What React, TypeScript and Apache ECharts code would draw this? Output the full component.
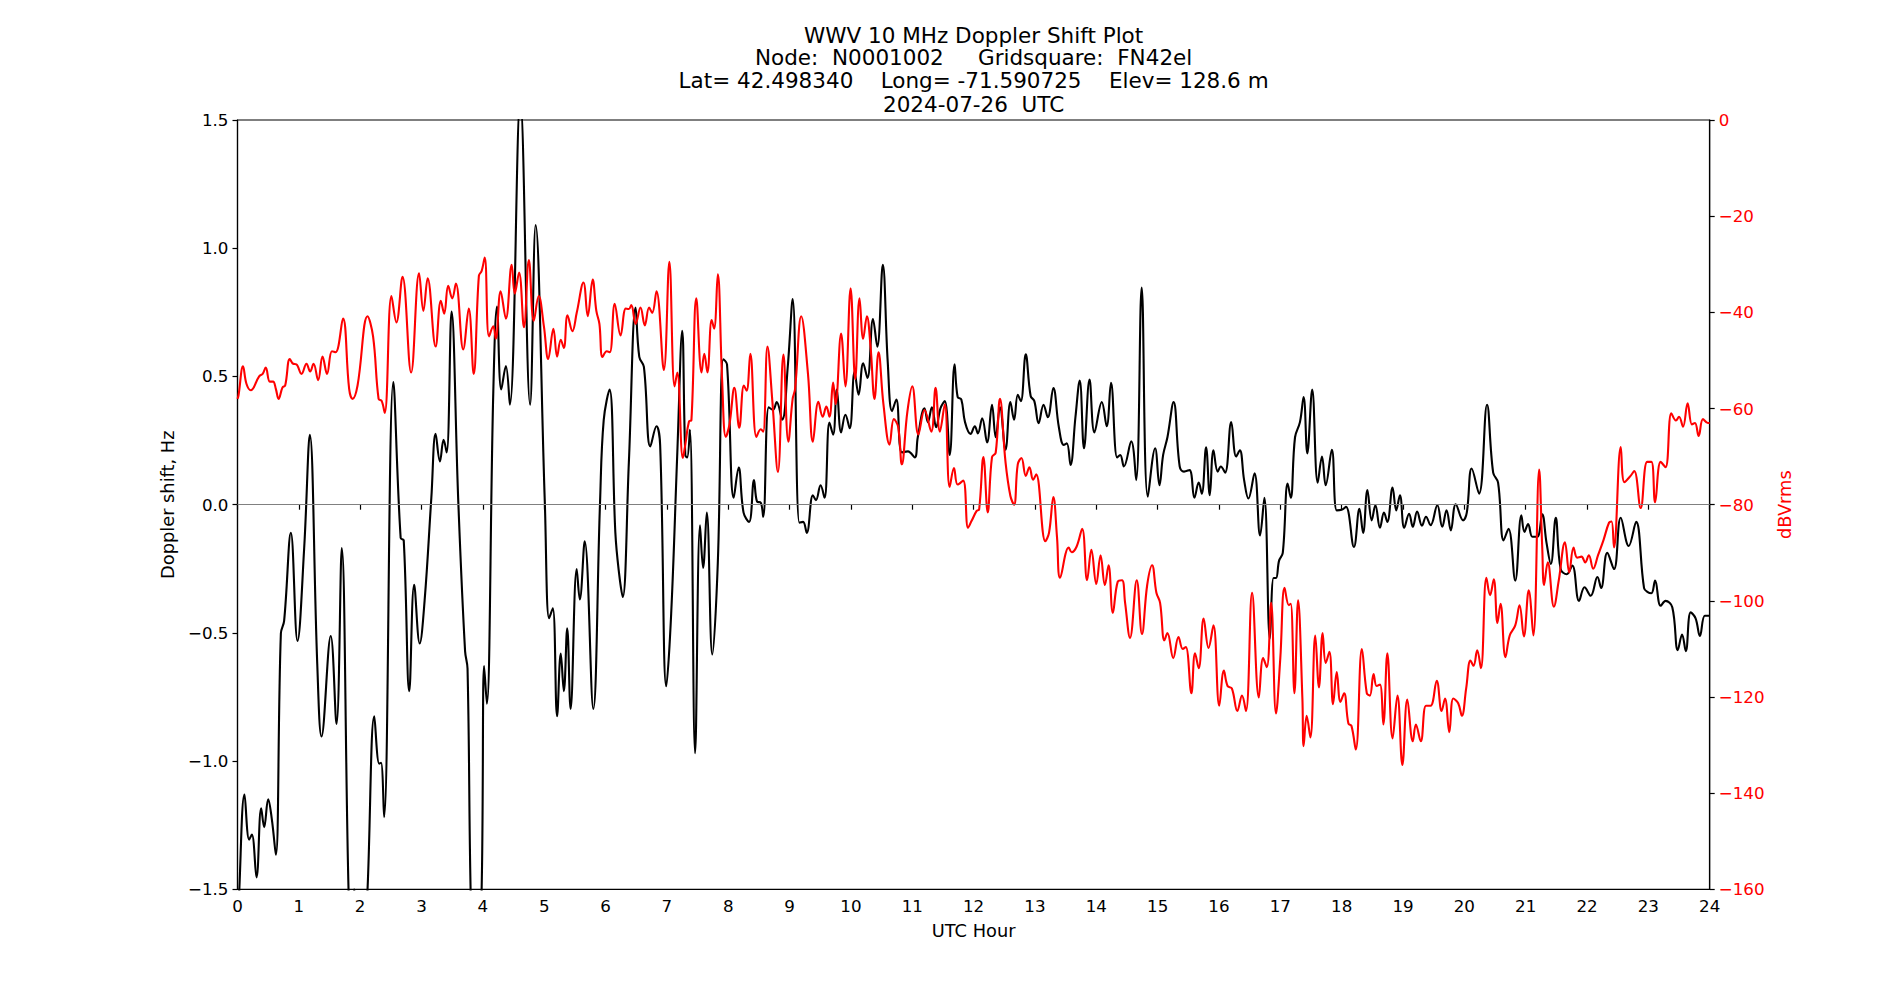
import React, { useEffect, useRef } from "react";
import * as echarts from "echarts";

const titleLines = [
  "WWV 10 MHz Doppler Shift Plot",
  "Node:  N0001002     Gridsquare:  FN42el",
  "Lat= 42.498340    Long= -71.590725    Elev= 128.6 m",
  "2024-07-26  UTC",
];
const xLabel = "UTC Hour";
const leftLabel = "Doppler shift, Hz";
const rightLabel = "dBVrms";

const dopplerHours = [
  0.0, 0.03, 0.114, 0.19, 0.234, 0.31, 0.386, 0.435, 0.5, 0.56, 0.625, 0.707, 0.76, 0.87, 0.978, 1.087, 1.179, 1.3, 1.37, 1.52,
  1.614, 1.7, 1.81, 1.86, 1.9, 1.95, 2.05, 2.12, 2.23, 2.31, 2.34, 2.39, 2.54, 2.66, 2.71, 2.8, 2.88, 2.97, 3.05, 3.16,
  3.23, 3.3, 3.36, 3.41, 3.49, 3.6, 3.71, 3.75, 3.8, 3.88, 3.98, 4.02, 4.065, 4.17, 4.23, 4.3, 4.375, 4.44, 4.61, 4.77,
  4.86, 5.01, 5.08, 5.14, 5.21, 5.27, 5.32, 5.375, 5.43, 5.53, 5.58, 5.66, 5.8, 5.91, 5.97, 6.065, 6.16, 6.22, 6.28, 6.38,
  6.49, 6.55, 6.625, 6.73, 6.83, 6.89, 6.99, 7.07, 7.17, 7.25, 7.3, 7.33, 7.375, 7.46, 7.54, 7.59, 7.65, 7.74, 7.83, 7.92,
  7.98, 8.09, 8.17, 8.25, 8.34, 8.42, 8.47, 8.53, 8.57, 8.66, 8.73, 8.79, 8.88, 8.97, 9.05, 9.16, 9.22, 9.28, 9.38, 9.43,
  9.505, 9.57, 9.65, 9.71, 9.77, 9.84, 9.91, 9.98, 10.06, 10.125, 10.2, 10.27, 10.36, 10.43, 10.52, 10.6, 10.67, 10.74, 10.83, 10.93,
  11.04, 11.09, 11.2, 11.255, 11.32, 11.39, 11.46, 11.53, 11.61, 11.69, 11.74, 11.8, 11.86, 11.95, 12.02, 12.07, 12.14, 12.22, 12.3, 12.36,
  12.43, 12.52, 12.6, 12.66, 12.72, 12.77, 12.85, 12.93, 12.99, 13.06, 13.14, 13.21, 13.3, 13.39, 13.47, 13.52, 13.58, 13.66, 13.73, 13.8,
  13.89, 13.97, 14.09, 14.17, 14.24, 14.34, 14.39, 14.45, 14.57, 14.65, 14.74, 14.84, 14.96, 15.03, 15.09, 15.16, 15.26, 15.36, 15.43, 15.52,
  15.6, 15.67, 15.72, 15.79, 15.85, 15.91, 15.98, 16.03, 16.1, 16.2, 16.28, 16.34, 16.41, 16.48, 16.58, 16.67, 16.74, 16.83, 16.89, 16.93,
  16.98, 17.04, 17.12, 17.17, 17.24, 17.32, 17.38, 17.44, 17.52, 17.61, 17.68, 17.74, 17.84, 17.92, 18.0, 18.07, 18.2, 18.29, 18.35, 18.42,
  18.49, 18.55, 18.625, 18.69, 18.745, 18.83, 18.89, 18.95, 19.02, 19.1, 19.16, 19.23, 19.31, 19.375, 19.45, 19.56, 19.64, 19.71, 19.78, 19.86,
  19.98, 20.04, 20.12, 20.24, 20.37, 20.47, 20.55, 20.64, 20.72, 20.83, 20.93, 20.98, 21.04, 21.11, 21.19, 21.27, 21.34, 21.41, 21.49, 21.57,
  21.67, 21.76, 21.87, 21.96, 22.06, 22.17, 22.23, 22.33, 22.44, 22.55, 22.68, 22.8, 22.93, 22.99, 23.05, 23.11, 23.2, 23.28, 23.39, 23.48,
  23.55, 23.61, 23.69, 23.77, 23.84, 23.92, 23.99,
];
const dopplerShift = [
  -1.75, -1.5, -1.13, -1.306, -1.286, -1.453, -1.184, -1.257, -1.149, -1.227, -1.365, -0.502, -0.453, -0.11, -0.531, -0.169, 0.273, -0.62, -0.904, -0.512,
  -0.855, -0.169, -1.5, -1.7, -1.5, -1.7, -1.8, -1.5, -0.825, -1.01, -1.006, -1.218, 0.478, -0.13, -0.139, -0.727, -0.312, -0.541, -0.375, 0.027,
  0.276, 0.169, 0.253, 0.204, 0.753, 0.008, -0.571, -0.639, -1.5, -2.2, -1.5, -0.629, -0.776, 0.44, 0.773, 0.449, 0.541, 0.39, 1.58, 0.39,
  1.09, 0.008, -0.443, -0.404, -0.825, -0.58, -0.727, -0.482, -0.796, -0.251, -0.369, -0.143, -0.796, 0.008, 0.33, 0.449, -0.11, -0.267, -0.36, 0.165,
  0.769, 0.576, 0.537, 0.227, 0.306, 0.233, -0.708, -0.424, 0.204, 0.678, 0.194, 0.184, 0.292, -0.969, -0.08, -0.247, -0.031, -0.584, -0.227, 0.567,
  0.547, 0.027, 0.145, -0.031, -0.067, 0.096, 0.012, 0.008, -0.047, 0.38, 0.37, 0.4, 0.331, 0.537, 0.802, -0.07, -0.067, -0.11, 0.037, 0.018,
  0.076, 0.027, 0.32, 0.273, 0.449, 0.282, 0.351, 0.298, 0.518, 0.429, 0.551, 0.494, 0.724, 0.616, 0.935, 0.557, 0.365, 0.41, 0.204, 0.208,
  0.184, 0.263, 0.376, 0.322, 0.38, 0.302, 0.376, 0.404, 0.194, 0.547, 0.42, 0.41, 0.322, 0.276, 0.306, 0.278, 0.337, 0.243, 0.39, 0.263,
  0.38, 0.214, 0.4, 0.331, 0.429, 0.404, 0.586, 0.424, 0.404, 0.318, 0.39, 0.341, 0.455, 0.302, 0.233, 0.239, 0.155, 0.341, 0.484, 0.22,
  0.488, 0.282, 0.4, 0.306, 0.475, 0.184, 0.194, 0.149, 0.247, 0.096, 0.847, 0.031, 0.22, 0.076, 0.194, 0.263, 0.4, 0.149, 0.129, 0.135,
  0.027, 0.086, 0.043, 0.224, 0.037, 0.212, 0.129, 0.149, 0.125, 0.322, 0.188, 0.212, 0.096, 0.024, 0.122, -0.12, 0.027, -0.522, -0.286, -0.286,
  -0.218, -0.188, 0.082, 0.027, 0.263, 0.322, 0.42, 0.2, 0.449, 0.086, 0.188, 0.076, 0.214, -0.022, -0.02, -0.008, -0.165, -0.016, -0.11, 0.057,
  -0.061, -0.002, -0.09, -0.031, -0.067, 0.067, -0.022, 0.037, -0.09, -0.035, -0.086, -0.027, -0.082, -0.047, -0.08, -0.002, -0.086, -0.022, -0.1, 0.002,
  -0.061, -0.031, 0.141, 0.043, 0.39, 0.125, 0.086, -0.139, -0.094, -0.296, -0.041, -0.106, -0.075, -0.125, -0.125, -0.037, -0.149, -0.231, -0.051, -0.251,
  -0.271, -0.237, -0.375, -0.322, -0.355, -0.282, -0.325, -0.188, -0.251, -0.051, -0.161, -0.067, -0.325, -0.341, -0.345, -0.296, -0.394, -0.375, -0.4, -0.567,
  -0.506, -0.571, -0.42, -0.443, -0.512, -0.433, -0.433,
];

const powerHours = [
  0.0, 0.016, 0.09, 0.147, 0.217, 0.353, 0.41, 0.46, 0.527, 0.58, 0.625, 0.67, 0.734, 0.777, 0.853, 0.908, 0.96, 1.043, 1.125, 1.185,
  1.24, 1.315, 1.386, 1.46, 1.54, 1.6, 1.72, 1.82, 1.875, 1.957, 2.12, 2.21, 2.3, 2.35, 2.4, 2.51, 2.59, 2.69, 2.83, 2.96,
  3.03, 3.1, 3.23, 3.315, 3.37, 3.435, 3.5, 3.56, 3.68, 3.77, 3.85, 3.935, 3.98, 4.03, 4.1, 4.17, 4.21, 4.29, 4.375, 4.47,
  4.52, 4.59, 4.67, 4.75, 4.83, 4.91, 4.995, 5.065, 5.15, 5.21, 5.27, 5.32, 5.38, 5.46, 5.53, 5.64, 5.71, 5.79, 5.85, 5.9,
  5.95, 6.02, 6.07, 6.15, 6.245, 6.33, 6.38, 6.42, 6.49, 6.57, 6.64, 6.71, 6.76, 6.83, 6.95, 7.04, 7.125, 7.17, 7.26, 7.3,
  7.36, 7.4, 7.48, 7.565, 7.61, 7.66, 7.73, 7.77, 7.83, 7.9, 7.96, 8.02, 8.1, 8.18, 8.255, 8.3, 8.36, 8.46, 8.53, 8.57,
  8.64, 8.72, 8.81, 8.9, 8.98, 9.05, 9.09, 9.19, 9.3, 9.38, 9.47, 9.54, 9.6, 9.65, 9.71, 9.75, 9.84, 9.91, 9.995, 10.07,
  10.14, 10.2, 10.26, 10.32, 10.385, 10.45, 10.53, 10.63, 10.7, 10.77, 10.83, 10.92, 11.0, 11.1, 11.2, 11.31, 11.38, 11.45, 11.53, 11.61,
  11.68, 11.74, 11.83, 11.91, 11.97, 12.05, 12.09, 12.16, 12.23, 12.3, 12.36, 12.43, 12.52, 12.6, 12.66, 12.72, 12.78, 12.85, 12.91, 12.97,
  13.02, 13.17, 13.23, 13.3, 13.36, 13.41, 13.55, 13.6, 13.68, 13.77, 13.85, 13.92, 14.0, 14.07, 14.14, 14.2, 14.27, 14.35, 14.42, 14.47,
  14.55, 14.66, 14.745, 14.83, 14.91, 14.98, 15.04, 15.11, 15.16, 15.255, 15.34, 15.41, 15.46, 15.55, 15.61, 15.67, 15.75, 15.83, 15.91, 16.005,
  16.08, 16.14, 16.21, 16.3, 16.375, 16.44, 16.54, 16.65, 16.72, 16.78, 16.85, 16.93, 17.0, 17.07, 17.14, 17.17, 17.23, 17.29, 17.36, 17.38,
  17.43, 17.49, 17.57, 17.63, 17.69, 17.74, 17.8, 17.86, 17.92, 17.98, 18.04, 18.11, 18.16, 18.23, 18.33, 18.41, 18.46, 18.52, 18.57, 18.625,
  18.68, 18.745, 18.83, 18.91, 18.99, 19.07, 19.16, 19.21, 19.29, 19.375, 19.45, 19.55, 19.63, 19.685, 19.755, 19.82, 19.9, 19.96, 20.03, 20.1,
  20.15, 20.21, 20.27, 20.36, 20.42, 20.48, 20.54, 20.59, 20.67, 20.74, 20.83, 20.9, 20.97, 21.05, 21.125, 21.22, 21.27, 21.3, 21.36, 21.46,
  21.54, 21.64, 21.71, 21.78, 21.84, 21.91, 21.97, 22.03, 22.1, 22.18, 22.27, 22.36, 22.4, 22.44, 22.55, 22.61, 22.71, 22.77, 22.875, 22.98,
  23.05, 23.11, 23.2, 23.28, 23.375, 23.45, 23.5, 23.565, 23.64, 23.71, 23.76, 23.82, 23.89, 23.97, 24.0,
];
const powerDb = [
  -58, -57.3, -51.2, -54.9, -56.2, -53.3, -52.8, -51.5, -54.4, -54.4, -55.9, -58.0, -55.6, -55.2, -49.7, -50.7, -50.8, -52.8, -50.7, -52.3,
  -50.7, -54.1, -49.2, -52.8, -48.1, -48.3, -41.3, -55.9, -58.0, -55.2, -40.8, -45.0, -58.0, -58.4, -60.9, -36.6, -42.1, -32.6, -52.5, -31.9,
  -39.7, -32.9, -47.1, -37.6, -40.3, -34.5, -37.1, -34.0, -47.7, -39.2, -52.8, -32.4, -31.4, -28.6, -45.0, -42.9, -45.5, -35.6, -41.3, -30.1,
  -36.1, -31.7, -43.1, -29.1, -41.8, -36.6, -42.9, -49.7, -43.4, -49.2, -45.7, -47.4, -40.6, -43.9, -40.1, -33.8, -40.8, -33.2, -39.7, -42.4,
  -49.3, -48.1, -48.3, -38.2, -44.8, -39.2, -39.3, -38.5, -42.4, -39.0, -42.7, -39.0, -40.1, -35.6, -52.0, -29.5, -55.4, -52.5, -70.3, -67.5,
  -62.7, -62.4, -37.1, -52.5, -48.6, -52.5, -41.6, -43.4, -32.1, -53.9, -65.9, -63.3, -55.7, -64.0, -55.2, -56.3, -48.6, -65.9, -64.3, -64.8,
  -47.1, -58.6, -73.2, -48.8, -66.9, -58.0, -55.9, -40.8, -52.8, -66.9, -58.6, -61.7, -59.6, -61.7, -54.6, -59.1, -44.4, -55.4, -35.0, -53.9,
  -37.1, -45.5, -40.8, -47.1, -58.0, -48.3, -59.1, -67.5, -62.2, -63.8, -71.6, -60.7, -55.4, -65.4, -60.3, -64.8, -55.7, -64.8, -59.1, -76.3,
  -72.4, -75.8, -75.0, -84.8, -83.3, -81.3, -81.0, -70.1, -81.6, -70.1, -69.2, -58.0, -71.1, -78.2, -80.0, -71.6, -70.3, -74.0, -72.2, -74.8,
  -73.7, -87.6, -85.8, -78.4, -86.8, -95.2, -88.9, -89.9, -88.7, -85.0, -95.7, -89.4, -96.5, -90.5, -96.7, -92.6, -102.5, -96.0, -95.7, -100.4,
  -107.7, -95.7, -106.9, -96.7, -92.6, -98.3, -100.4, -108.2, -106.7, -111.9, -107.5, -110.0, -109.6, -119.2, -110.9, -114.0, -103.7, -109.8, -105.1, -121.8,
  -114.5, -117.7, -118.2, -122.9, -119.7, -122.9, -98.3, -120.1, -111.9, -113.8, -100.4, -123.4, -111.9, -97.3, -100.9, -100.6, -119.2, -99.9, -120.3, -130.2,
  -123.9, -128.4, -107.2, -118.0, -106.7, -112.9, -110.6, -121.5, -114.8, -121.0, -119.2, -125.5, -126.0, -130.9, -110.0, -119.2, -119.7, -115.2, -117.7, -117.4,
  -125.7, -110.9, -128.6, -119.7, -134.1, -120.5, -129.2, -125.7, -129.2, -121.8, -121.8, -116.6, -122.9, -120.3, -127.3, -120.3, -121.3, -123.9, -118.2, -112.4,
  -113.5, -110.3, -114.0, -95.2, -98.8, -95.5, -104.6, -100.6, -111.7, -107.2, -105.1, -100.9, -107.4, -97.8, -107.2, -72.7, -88.9, -96.7, -92.0, -101.2,
  -95.7, -87.8, -94.1, -88.9, -91.0, -90.8, -92.0, -90.5, -93.3, -90.5, -87.3, -83.7, -83.5, -88.9, -68.0, -75.3, -74.0, -73.0, -80.7, -71.1,
  -71.1, -79.5, -71.1, -72.2, -61.0, -62.5, -61.7, -63.8, -58.9, -63.3, -63.0, -65.7, -62.2, -63.0, -63.0,
];

const FONT = "DejaVu Sans";
const minus = (s: string) => s.replace("-", "\u2212");

export default function App() {
  const ref = useRef<HTMLDivElement>(null);
  useEffect(() => {
    const chart = echarts.init(ref.current!, null, { renderer: "svg" });
    const L = 237.5, T = 120, R = 1709.7, B = 889.4;
    const cx = (L + R) / 2;
    const titleY = [35, 57.5, 80.5, 104];
    const dopplerData = dopplerHours.map((h, i) => [h, dopplerShift[i]]);
    const powerData = powerHours.map((h, i) => [h, powerDb[i]]);
    chart.setOption({
      animation: false,
      backgroundColor: "#ffffff",
      textStyle: { fontFamily: FONT },
      grid: {
        left: L, top: T, width: R - L, height: B - T,
        show: true, borderColor: "#000", borderWidth: 1.2, backgroundColor: "transparent",
      },
      xAxis: {
        type: "value", min: 0, max: 24, interval: 1,
        axisLine: { show: true, lineStyle: { color: "#000", width: 1.2 } },
        axisTick: { show: true, length: 5, lineStyle: { color: "#000", width: 1.2 } },
        axisLabel: { color: "#000", fontSize: 16.7, fontFamily: FONT, margin: 8, formatter: (v: number) => String(v) },
        splitLine: { show: false },
      },
      yAxis: [
        {
          type: "value", min: -1.5, max: 1.5, interval: 0.5, position: "left",
          axisLine: { show: true, lineStyle: { color: "#000", width: 1.2 } },
          axisTick: { show: true, length: 5, lineStyle: { color: "#000", width: 1.2 } },
          axisLabel: { color: "#000", fontSize: 16.7, fontFamily: FONT, margin: 9, formatter: (v: number) => minus(v.toFixed(1)) },
          splitLine: { show: false },
        },
        {
          type: "value", min: -160, max: 0, interval: 20, position: "right",
          axisLine: { show: true, lineStyle: { color: "#000", width: 1.2 } },
          axisTick: { show: true, length: 5, lineStyle: { color: "#000", width: 1.2 } },
          axisLabel: { color: "#ff0000", fontSize: 16.7, fontFamily: FONT, margin: 9, formatter: (v: number) => minus(String(v)) },
          splitLine: { show: false },
        },
      ],
      series: [
        {
          type: "line", name: "Doppler", yAxisIndex: 0, data: dopplerData,
          showSymbol: false, smooth: 0.4, clip: true,
          lineStyle: { color: "#000", width: 2.1 }, itemStyle: { color: "#000" },
          markLine: {
            silent: true, symbol: ["none", "none"], label: { show: false },
            lineStyle: { color: "#808080", width: 1.2, type: "solid" },
            data: [{ yAxis: 0 }],
          },
          z: 2,
        },
        {
          type: "line", name: "Power", yAxisIndex: 1, data: powerData,
          showSymbol: false, smooth: 0.4, clip: true,
          lineStyle: { color: "#ff0000", width: 2.1 }, itemStyle: { color: "#ff0000" },
          z: 3,
        },
      ],
      graphic: [
        ...titleLines.map((t, i) => ({
          type: "text", x: cx, y: titleY[i],
          style: { text: t, fill: "#000", font: `21.5px '${FONT}'`, textAlign: "center", textVerticalAlign: "middle" },
        })),
        {
          type: "text", x: cx, y: 930.5,
          style: { text: xLabel, fill: "#000", font: `17.8px '${FONT}'`, textAlign: "center", textVerticalAlign: "middle" },
        },
        {
          type: "text", x: 167, y: (T + B) / 2, rotation: Math.PI / 2,
          style: { text: leftLabel, fill: "#000", font: `17.8px '${FONT}'`, textAlign: "center", textVerticalAlign: "middle" },
        },
        {
          type: "text", x: 1784, y: (T + B) / 2, rotation: Math.PI / 2,
          style: { text: rightLabel, fill: "#ff0000", font: `17.8px '${FONT}'`, textAlign: "center", textVerticalAlign: "middle" },
        },
      ],
    });
    return () => chart.dispose();
  }, []);
  return (
    <div
      ref={ref}
      style={{ position: "absolute", left: 0, top: 0, width: 1900, height: 1000, background: "#fff" }}
    />
  );
}
